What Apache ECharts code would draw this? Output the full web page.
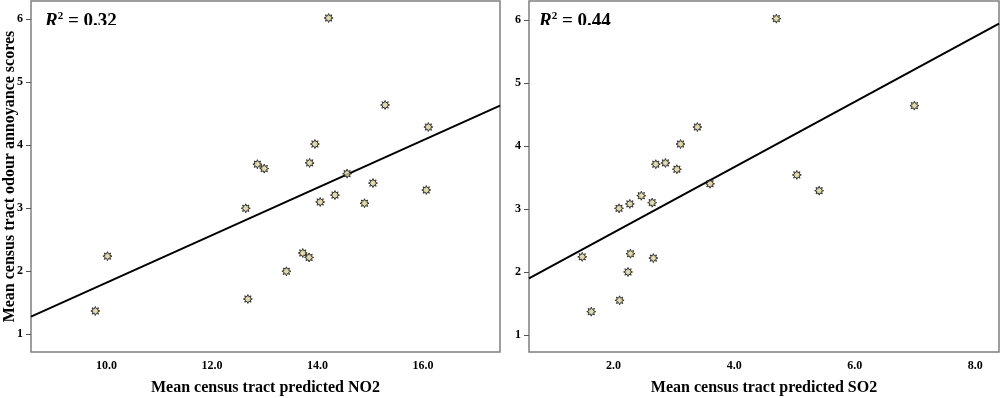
<!DOCTYPE html>
<html><head><meta charset="utf-8">
<script src="https://cdn.jsdelivr.net/npm/echarts@6/dist/echarts.min.js"></script>
<style>html,body{margin:0;padding:0;background:#fff}#c{width:1000px;height:398px}</style>
</head><body><div id="c"></div>
<script>
// ---- data ----
const no2X = [9.79, 10.02, 12.64, 12.68, 12.86, 12.99, 13.41, 13.72, 13.84, 13.85, 13.95, 14.05, 14.33, 14.56, 14.89, 15.05, 16.10, 16.06, 15.28, 14.21];
const no2Y = [1.37, 2.24, 3.00, 1.56, 3.70, 3.63, 2.00, 2.29, 2.22, 3.72, 4.02, 3.10, 3.21, 3.55, 3.08, 3.40, 4.29, 3.29, 4.64, 6.02];
const so2X = [3.39, 3.11, 2.70, 2.86, 3.05, 3.60, 5.04, 5.41, 2.09, 2.27, 2.46, 2.64, 1.48, 2.28, 2.66, 2.24, 2.10, 1.63, 4.70, 6.99];
const so2Y = [4.30, 4.03, 3.71, 3.73, 3.63, 3.40, 3.54, 3.29, 3.01, 3.08, 3.21, 3.10, 2.24, 2.29, 2.22, 2.00, 1.55, 1.37, 6.02, 4.64];
const no2Fit = [[8.571, 1.28], [17.457, 4.63]];
const so2Fit = [[0.597, 1.90], [8.393, 5.94]];
const no2Ticks = [10, 12, 14, 16];
const so2Ticks = [2, 4, 6, 8];
const scoreTicks = [1, 2, 3, 4, 5, 6];
const r2Values = ['0.32', '0.44'];
const xTitles = ['Mean census tract predicted NO2', 'Mean census tract predicted SO2'];
const yTitle = 'Mean census tract odour annoyance scores';

// ---- styling ----
const FONT = 'Liberation Serif';
function starPath() {
  const pts = [];
  for (let i = 0; i < 16; i++) {
    const r = i % 2 ? 0.55 : 1;
    const a = i * Math.PI / 8 - Math.PI / 2;
    pts.push(((r * Math.cos(a)) * 10 + 10).toFixed(2) + ',' + ((r * Math.sin(a)) * 10 + 10).toFixed(2));
  }
  return 'path://M' + pts.join('L') + 'Z';
}
const STAR = starPath();
const pair = (xs, ys) => xs.map((x, i) => [x, ys[i]]);

function xAxisOf(idx, min, max, ticks, title) {
  return {
    gridIndex: idx, type: 'value', min: min, max: max,
    axisLine: { show: false }, axisTick: { show: false }, splitLine: { show: false },
    axisLabel: { customValues: ticks, formatter: v => v.toFixed(1), color: '#000',
      fontFamily: FONT, fontWeight: 'bold', fontSize: 12, margin: 8 },
    name: title, nameLocation: 'middle', nameGap: 28,
    nameTextStyle: { fontFamily: FONT, fontWeight: 'bold', fontSize: 16, color: '#000' }
  };
}
function yAxisOf(idx, min, max, title) {
  return {
    gridIndex: idx, type: 'value', min: min, max: max,
    axisLine: { show: false }, splitLine: { show: false },
    axisTick: { show: true, customValues: scoreTicks, length: 5, lineStyle: { color: '#555', width: 1 } },
    axisLabel: { customValues: scoreTicks, color: '#000', fontFamily: FONT, fontWeight: 'bold', fontSize: 12, margin: 8 },
    name: title, nameLocation: 'middle', nameGap: 13, nameRotate: 90, nameMoveOverlap: false,
    nameTextStyle: { fontFamily: FONT, fontWeight: 'bold', fontSize: 16, color: '#000' }
  };
}
function scatterOf(idx, data) {
  return { type: 'scatter', xAxisIndex: idx, yAxisIndex: idx, data: data, symbol: STAR, symbolSize: 9,
    itemStyle: { color: '#d9d29a', borderColor: '#111', borderWidth: 1 }, z: 3 };
}
function fitOf(idx, data) {
  return { type: 'line', xAxisIndex: idx, yAxisIndex: idx, data: data, showSymbol: false, symbol: 'none',
    lineStyle: { color: '#000', width: 2 }, z: 2, silent: true };
}
function r2Text(left, val) {
  return { type: 'text', left: left, top: 11, z: 10,
    style: { text: '{i|R}{s|2}{n| = ' + val + '}',
      rich: {
        i: { fontFamily: FONT, fontStyle: 'italic', fontWeight: 'bold', fontSize: 19, fill: '#000', lineHeight: 20 },
        s: { fontFamily: FONT, fontWeight: 'bold', fontSize: 11, fill: '#000', verticalAlign: 'top', lineHeight: 20 },
        n: { fontFamily: FONT, fontWeight: 'bold', fontSize: 19, fill: '#000', lineHeight: 20 }
      } } };
}

const chart = echarts.init(document.getElementById('c'), null, { renderer: 'canvas' });
chart.setOption({
  backgroundColor: '#fff',
  animation: false,
  grid: [
    { left: 31, top: 1, width: 469, height: 351, show: true, outerBoundsMode: 'none', containLabel: false,
      borderColor: '#7f7f7f', borderWidth: 1.5, backgroundColor: 'transparent' },
    { left: 529, top: 1, width: 470, height: 351, show: true, outerBoundsMode: 'none', containLabel: false,
      borderColor: '#7f7f7f', borderWidth: 1.5, backgroundColor: 'transparent' }
  ],
  xAxis: [
    xAxisOf(0, 8.571, 17.457, no2Ticks, xTitles[0]),
    xAxisOf(1, 0.597, 8.393, so2Ticks, xTitles[1])
  ],
  yAxis: [
    yAxisOf(0, 0.719, 6.29, yTitle),
    yAxisOf(1, 0.730, 6.30, '')
  ],
  series: [
    fitOf(0, no2Fit), scatterOf(0, pair(no2X, no2Y)),
    fitOf(1, so2Fit), scatterOf(1, pair(so2X, so2Y))
  ],
  graphic: [
    r2Text(45, r2Values[0]),
    r2Text(539, r2Values[1]),
    { type: 'rect', shape: { x: 42, y: 25, width: 82, height: 8 }, style: { fill: '#fff' }, z: 11 },
    { type: 'rect', shape: { x: 536, y: 25, width: 82, height: 8 }, style: { fill: '#fff' }, z: 11 }
  ]
});
</script></body></html>
